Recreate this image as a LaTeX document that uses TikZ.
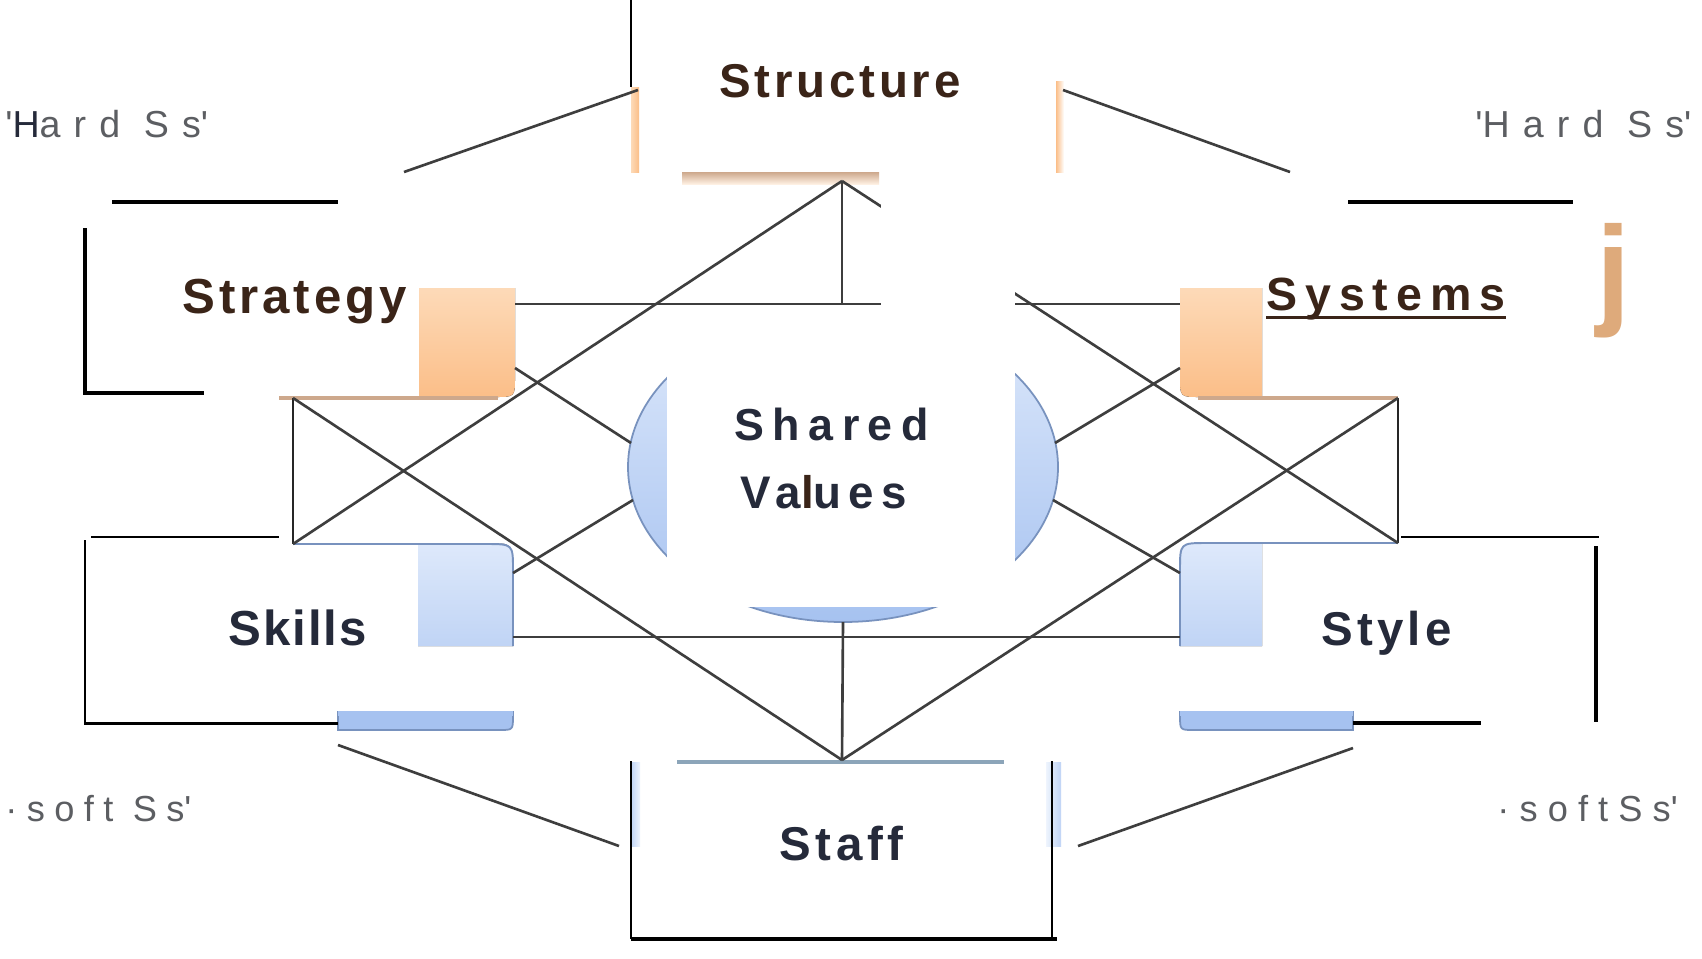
\documentclass[tikz,border=0pt]{standalone}
\usepackage{fontspec}
\setmainfont{Liberation Sans}
\usetikzlibrary{calc}

\definecolor{txtbrown}{RGB}{58,36,24}
\definecolor{txtnavy}{RGB}{37,42,58}
\definecolor{hintgray}{RGB}{92,94,98}
\definecolor{linkgray}{RGB}{62,62,62}
\definecolor{peachtop}{RGB}{253,218,184}
\definecolor{peachbot}{RGB}{251,190,136}
\definecolor{peachedge}{RGB}{205,168,140}
\definecolor{bluetop}{RGB}{222,233,251}
\definecolor{bluebot}{RGB}{192,212,245}
\definecolor{blueedge}{RGB}{120,146,190}
\definecolor{bluestrip}{RGB}{166,194,240}
\definecolor{staffedge}{RGB}{140,165,185}
\definecolor{jorange}{RGB}{222,170,123}

\newcommand\lblfont[2]{\fontsize{#1pt}{#1pt}\selectfont\addfontfeatures{LetterSpace=#2}}

\begin{document}
\begin{tikzpicture}[x=0.02cm, y=-0.02cm,
    link/.style={draw=linkgray, line width=1.5pt},
    post/.style={draw=black!85, line width=1.4pt},
    bracket/.style={draw=black, line width=#1},
    bracket/.default=1.4pt,
    patch/.style={fill=white, draw=none},
    lbl/.style={inner sep=0pt, anchor=base west}
]

\useasboundingbox (0,0) rectangle (1702,958);
\fill[white] (0,0) rectangle (1702,958);

% anchor points of the underlying model
\coordinate (sc) at (842,181);
\coordinate (scj) at (842,304);
\coordinate (st) at (842,760);
\coordinate (lt) at (293,398);
\coordinate (lb) at (293,544);
\coordinate (rt) at (1398,398);
\coordinate (rb) at (1398,543);
\coordinate (stratR) at (515,304);
\coordinate (sysL) at (1180,304);
\coordinate (skR) at (513,637);
\coordinate (styL) at (1180,637);
\coordinate (stratC) at (515,368);
\coordinate (skC) at (513,573);
\coordinate (sysC) at (1180,368);
\coordinate (styC) at (1180,573);
\coordinate (vals) at (843,467);
\coordinate (valLT) at (631,443);
\coordinate (valLB) at (633,500);
\coordinate (valRT) at (1055,443);
\coordinate (valRB) at (1053,500);
\coordinate (valB) at (843,622);
\coordinate (structL) at (638,90);
\coordinate (tlcut) at (404,172);
\coordinate (structR) at (1063,90);
\coordinate (trcut) at (1290,172);
\coordinate (skLow) at (338,745);
\coordinate (blcut) at (619,846);
\coordinate (styLow) at (1353,748);
\coordinate (brcut) at (1078,846);

% Shared Values disc
\draw[top color=bluetop, bottom color=bluestrip, draw=blueedge, line width=1pt]
    (vals) ellipse [x radius=215, y radius=155];

% Structure edges
\fill[left color=peachtop, right color=peachbot] (631,87) rectangle (639,172);
\fill[left color=peachbot, right color=white] (1056,81) rectangle (1064,172);
\fill[top color=peachedge, bottom color=peachtop!40] (682,172) rectangle (879,184);

% Strategy and Systems blocks
\fill[top color=peachtop, bottom color=peachbot] (419,288) -- (515,288) -- (515,377)
    .. controls (515,397) .. (495,397) -- (419,397) -- cycle;
\fill[top color=peachtop, bottom color=peachbot] (1262,288) -- (1180,288) -- (1180,377)
    .. controls (1180,397) .. (1200,397) -- (1262,397) -- cycle;
\draw[peachedge, line width=2pt] (279,398) -- (498,398);
\draw[peachedge, line width=2pt] (1198,398) -- (1398,398);

% Skills and Style blocks
\fill[top color=bluetop, bottom color=bluebot] (418,543) -- (486,543) .. controls (513,543) .. (513,570)
    -- (513,646) -- (418,646) -- cycle;
\draw[blueedge, line width=1.1pt] (293,544) -- (486,544) .. controls (513,544) .. (513,570) -- (513,646);
\fill[top color=bluetop, bottom color=bluebot] (1262,543) -- (1207,543) .. controls (1180,543) .. (1180,570)
    -- (1180,646) -- (1262,646) -- cycle;
\draw[blueedge, line width=1.1pt] (1398,543) -- (1207,543) .. controls (1180,543) .. (1180,570) -- (1180,646);
\draw[fill=bluestrip, draw=blueedge, line width=1pt] (338,712) -- (513,712) -- (513,716)
    .. controls (513,730) .. (499,730) -- (338,730) -- cycle;
\draw[fill=bluestrip, draw=blueedge, line width=1pt] (1353,712) -- (1180,712) -- (1180,716)
    .. controls (1180,730) .. (1194,730) -- (1353,730) -- cycle;
\fill[bluestrip] (338,711) rectangle (513,716);
\fill[bluestrip] (1180,711) rectangle (1353,716);

% Staff edges
\fill[left color=bluebot, right color=bluetop!50] (631,762) rectangle (640,846);
\fill[left color=bluetop!50, right color=bluebot] (1046,762) rectangle (1061,846);
\draw[staffedge, line width=1.8pt] (677,762) -- (1004,762);

% links
\draw[link] (stratR) -- (sysL);
\draw[link] (skR) -- (styL);
\draw[link] (sc) -- (scj);
\draw[link] (valB) -- (st);
\draw[post] (lt) -- (lb);
\draw[post] (rt) -- (rb);
\draw[link] (lt) -- (st);
\draw[link] (lb) -- (sc);
\draw[link] (rt) -- (st);
\draw[link] (rb) -- (sc);
\draw[link] (stratC) -- (valLT);
\draw[link] (skC) -- (valLB);
\draw[link] (sysC) -- (valRT);
\draw[link] (styC) -- (valRB);
\draw[link] (structL) -- (tlcut);
\draw[link] (structR) -- (trcut);
\draw[link] (skLow) -- (blcut);
\draw[link] (styLow) -- (brcut);

% pasted-over patches
\fill[patch] (881,172) rectangle (1015,310);
\fill[patch] (667,310) rectangle (1015,607);

% frame fragments
\draw[bracket=1.1pt] (631,0) -- (631,87);
\draw[bracket=2.7pt] (112,202) -- (338,202);
\draw[bracket=2pt] (85,228) -- (85,393) -- (204,393);
\draw[bracket=2.7pt] (1348,202) -- (1573,202);
\draw[bracket=1.3pt] (91,537) -- (279,537);
\draw[bracket=1.7pt] (85,540) -- (85,723) -- (338,723);
\draw[bracket=1.1pt] (631,761) -- (631,939);
\draw[bracket=1.1pt] (1052,761) -- (1052,939);
\draw[bracket=2.8pt] (631,939) -- (1057,939);
\draw[bracket=1.3pt] (1401,537) -- (1599,537);
\draw[bracket=2.4pt] (1596,546) -- (1596,722);
\draw[bracket=2.7pt] (1353,723) -- (1481,723);

% labels
\node[lbl, text=txtbrown, font=\bfseries\lblfont{27}{8}] (structure) at (719,97) {Structure};
\node[lbl, text=txtbrown, font=\bfseries\lblfont{28}{8}] (strategy) at (182,313) {Strategy};
\node[lbl, text=txtbrown, font=\bfseries\lblfont{26.5}{17}] (systems) at (1266,310) {Systems};
\draw[txtbrown, line width=1.8pt] ([yshift=-0.15cm]systems.base west) -- ([yshift=-0.15cm]systems.base east);
\node[lbl, text=jorange, font=\bfseries\lblfont{70}{0}] (jmark) at (1596,312) {j};
\node[lbl, text=txtnavy, font=\bfseries\lblfont{25.5}{19}] (shared) at (734,440) {Shared};
\node[lbl, text=txtnavy, font=\bfseries\lblfont{26}{16}] (values) at (740,508) {Va{\color{txtbrown}l}ues};
\node[lbl, text=txtnavy, font=\bfseries\lblfont{28}{4}] (skills) at (228,645) {Skills};
\node[lbl, text=txtnavy, font=\bfseries\lblfont{27}{9}] (style) at (1321,645) {Style};
\node[lbl, text=txtnavy, font=\bfseries\lblfont{27}{10}] (staff) at (779,860) {Staff};
\node[lbl, text=hintgray, font=\lblfont{21.4}{35}] (hardL) at (5,137) {\textquotesingle{\color{txtnavy}H}ard Ss\textquotesingle};
\node[lbl, text=hintgray, font=\lblfont{21.4}{35}] (hardR) at (1475,137) {\textquotesingle Hard Ss\textquotesingle};
\node[lbl, text=hintgray, font=\lblfont{20.6}{26}] (softL) at (5,821) {·soft Ss\textquotesingle};
\node[lbl, text=hintgray, font=\lblfont{20.6}{28}] (softR) at (1497,821) {·softSs\textquotesingle};

\end{tikzpicture}
\end{document}
